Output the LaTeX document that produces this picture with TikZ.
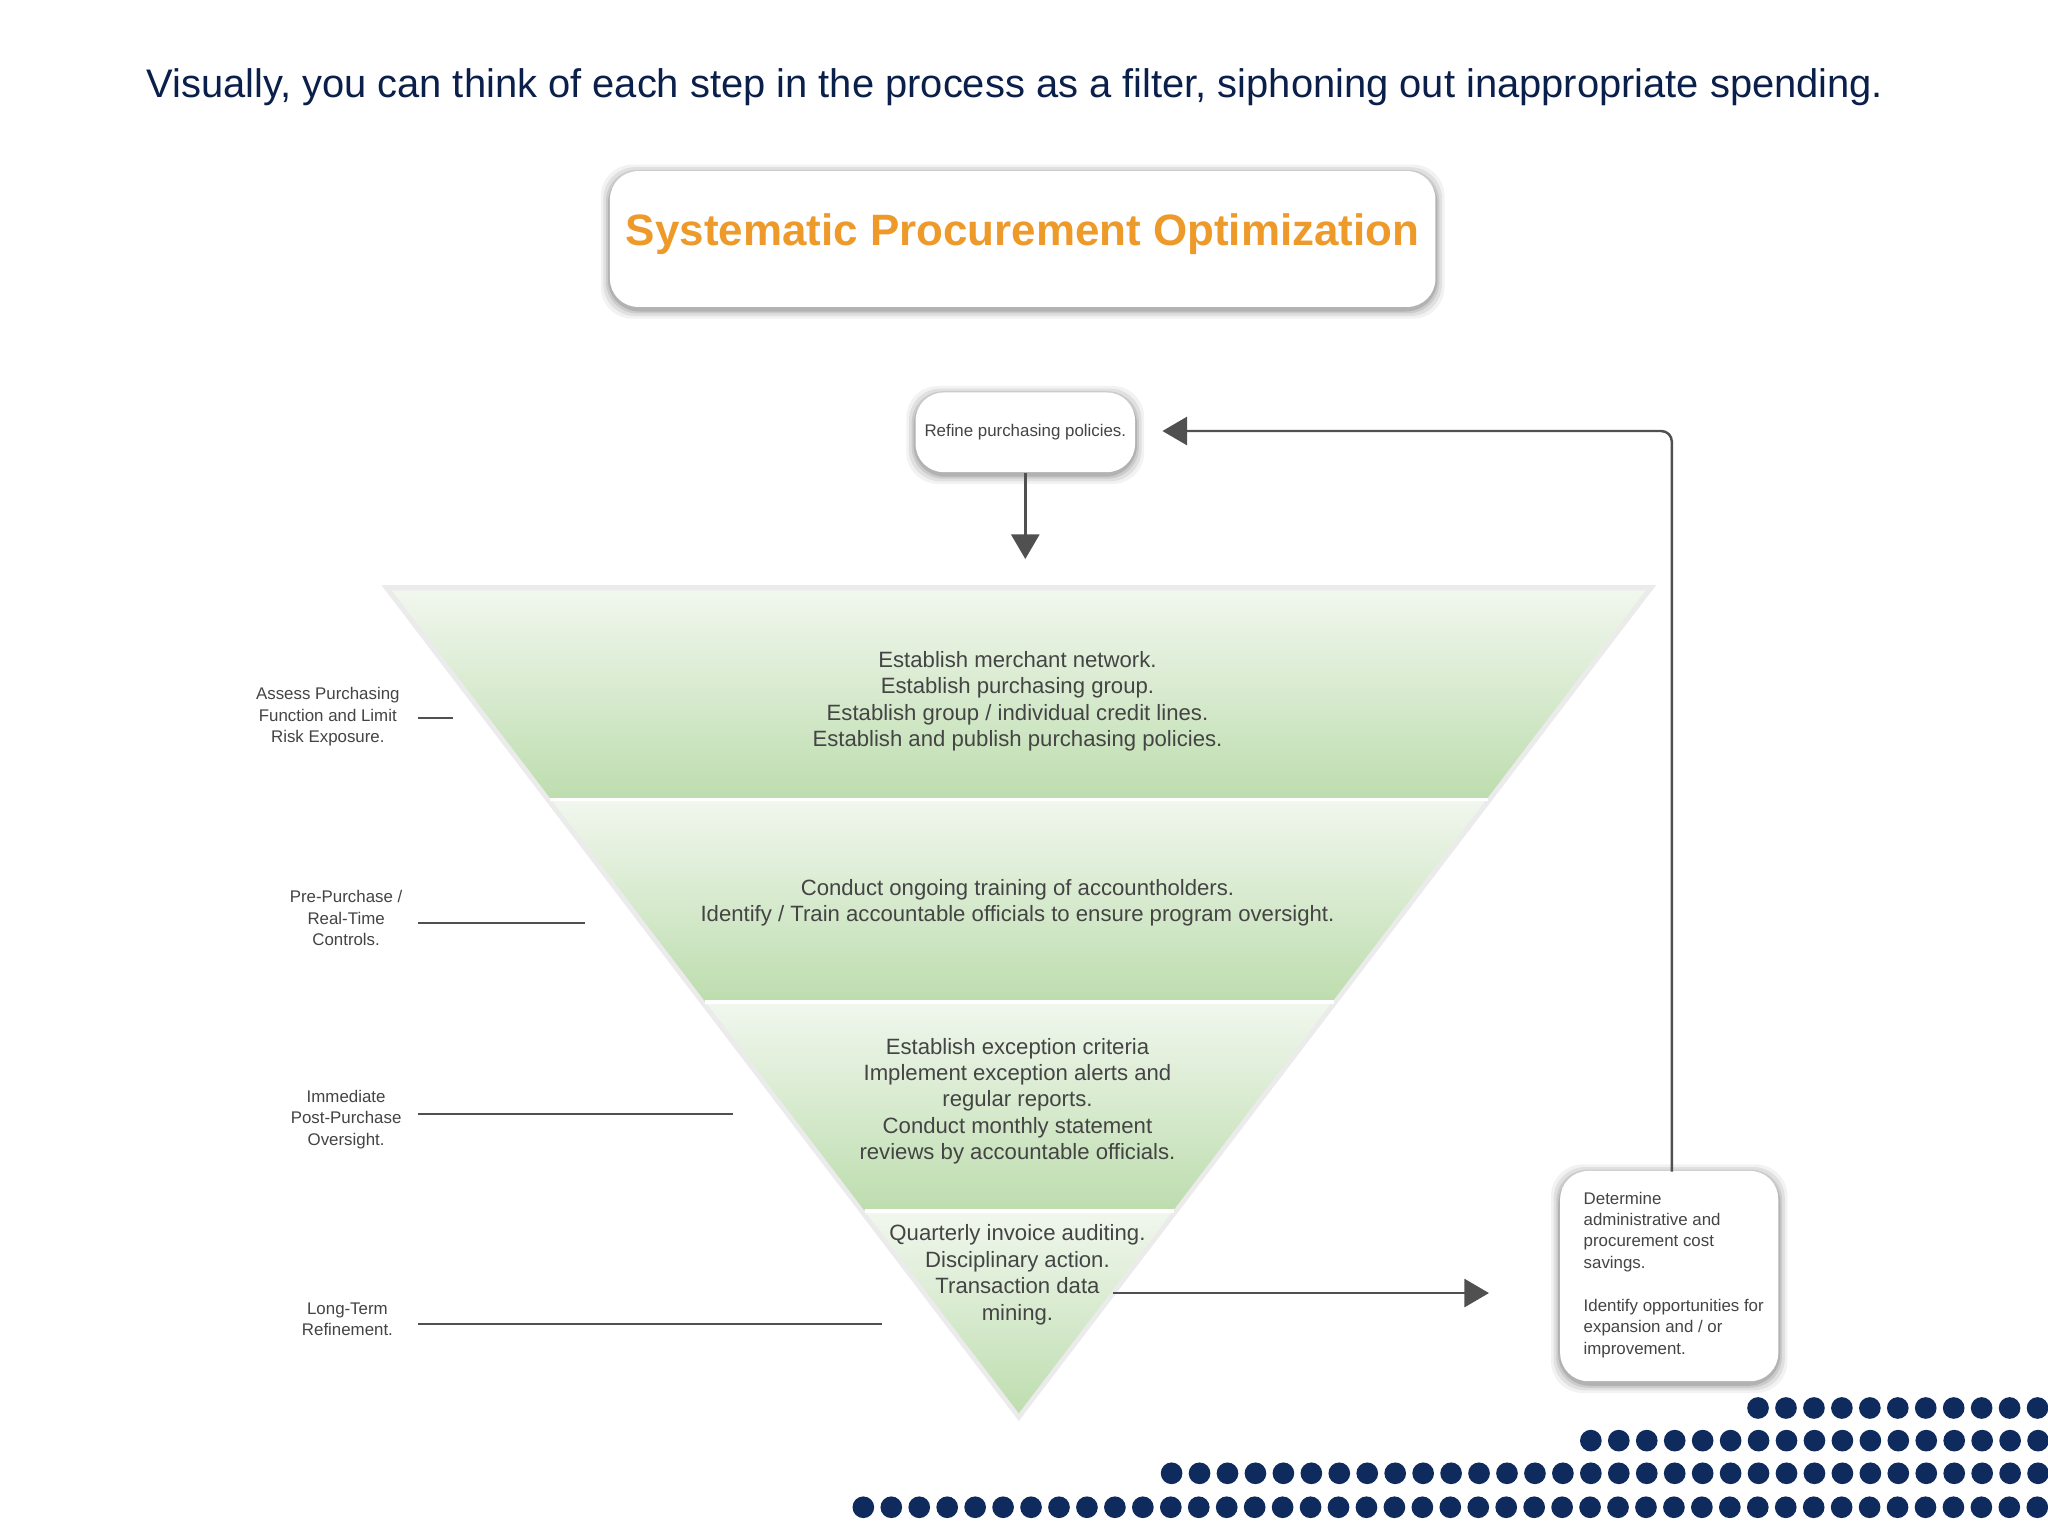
\documentclass[tikz,border=0pt]{standalone}
\usepackage{fontspec}
\setmainfont{Liberation Sans}
\usetikzlibrary{arrows.meta}
\definecolor{navy}{HTML}{0B1F4B}
\definecolor{dotc}{HTML}{0F2A5C}
\definecolor{orng}{HTML}{EE9A2A}
\definecolor{gtop}{HTML}{F1F7EE}
\definecolor{gbot}{HTML}{BDDDAE}
\definecolor{txt}{HTML}{444444}
\definecolor{arr}{HTML}{505050}
\newcommand{\softbox}[5]{% name, cx, cy, w, h
  \foreach \k/\op in {7/0.05,5/0.07,3/0.09,1.5/0.12}{
    \fill[black,opacity=\op,rounded corners=9pt] (#2-#4/2-\k,#3-#5/2-\k+2) rectangle (#2+#4/2+\k,#3+#5/2+\k+2);}
  \node[fill=white,rounded corners=8pt,minimum width=#4*0.3716pt,minimum height=#5*0.3716pt,inner sep=0pt] (#1) at (#2,#3) {};}
\begin{document}
\begin{tikzpicture}[x=0.01306cm,y=-0.01306cm,
  band/.style={font=\fontsize{6.3}{7.5}\selectfont,text=txt,align=center},
  lab/.style={font=\fontsize{4.8}{6.1}\selectfont,text=txt,align=center},
  lline/.style={draw=arr,line width=0.6pt},
  conn/.style={draw=arr,line width=0.7pt},
  big/.style={-{Triangle[width=8pt,length=7pt]}}]
\useasboundingbox[fill=white] (0,0) rectangle (1568,1176);
\node[text=navy,font=\fontsize{11.35}{13}\selectfont] (head) at (777,67) {Visually, you can think of each step in the process as a filter, siphoning out inappropriate spending.};
\softbox{tbox}{783}{183}{632}{104}
\node[text=orng,font=\fontsize{12.5}{15}\selectfont\bfseries] (ttext) at (783,179) {Systematic Procurement Optimization};
\softbox{refine}{785}{331}{168}{61}
\node[font=\fontsize{4.8}{6}\selectfont,text=txt] (rtxt) at (785,331) {Refine purchasing policies.};
% funnel
\fill[black,opacity=0.08] (292,448) -- (1268,448) -- (780,1088) -- cycle;
\begin{scope}
\clip (300,452) -- (1260,452) -- (780,1082) -- cycle;
\shade[top color=gtop,bottom color=gbot] (290,452) rectangle (1270,612);
\shade[top color=gtop,bottom color=gbot] (290,612) rectangle (1270,767);
\shade[top color=gtop,bottom color=gbot] (290,767) rectangle (1270,927);
\shade[top color=gtop,bottom color=gbot] (290,927) rectangle (1270,1085);
\end{scope}
\draw[white,line width=1pt] (421,612) -- (1139,612) (540,767) -- (1021,767) (662,927) -- (899,927);
\coordinate (apex) at (785,428);
\draw[conn,big] (refine.south) -- (apex);
\node[band] (b1) at (779,537) {Establish merchant network.\\Establish purchasing group.\\Establish group / individual credit lines.\\Establish and publish purchasing policies.};
\node[band] (b2) at (779,691) {Conduct ongoing training of accountholders.\\Identify / Train accountable officials to ensure program oversight.};
\node[band] (b3) at (779,843) {Establish exception criteria\\Implement exception alerts and\\regular reports.\\Conduct monthly statement\\reviews by accountable officials.};
\node[band] (b4) at (779,976) {Quarterly invoice auditing.\\Disciplinary action.\\Transaction data\\mining.};
% left labels
\node[lab] (l1) at (251,549) {Assess Purchasing\\Function and Limit\\Risk Exposure.};
\node[lab] (l2) at (265,703) {Pre-Purchase /\\Real-Time\\Controls.};
\node[lab] (l3) at (265,857) {Immediate\\Post-Purchase\\Oversight.};
\node[lab] (l4) at (266,1010) {Long-Term\\Refinement.};
\coordinate (e1) at (347,550); \coordinate (s1) at (320,550);
\coordinate (e2) at (448,707); \coordinate (s2) at (320,707);
\coordinate (e3) at (561,853); \coordinate (s3) at (320,853);
\coordinate (e4) at (675,1014); \coordinate (s4) at (320,1014);
\draw[lline] (s1)--(e1) (s2)--(e2) (s3)--(e3) (s4)--(e4);
% right box
\softbox{rbox}{1278}{977}{167}{161}
\node[lab,align=left,anchor=north west] (rtext) at (1203,903) {Determine\\administrative and\\procurement cost\\savings.\\[6.1pt]Identify opportunities for\\expansion and / or\\improvement.};
\coordinate (a1) at (852,990); \coordinate (a2) at (1140,990);
\draw[conn,big] (a1) -- (a2);
\coordinate (c1) at (1280,897); \coordinate (c2) at (890,330);
\draw[conn,big,rounded corners=3pt] (c1) |- (c2);
% dots
\foreach \y/\x in {1078/1346,1103/1218,1128/897,1154/661}{
  \foreach \i in {0,...,45}{
    \pgfmathsetmacro{\xx}{\x+21.4*\i}
    \ifdim\xx pt<1570pt \fill[dotc] (\xx,\y) circle (8.3);\fi
  }}
\end{tikzpicture}
\end{document}
